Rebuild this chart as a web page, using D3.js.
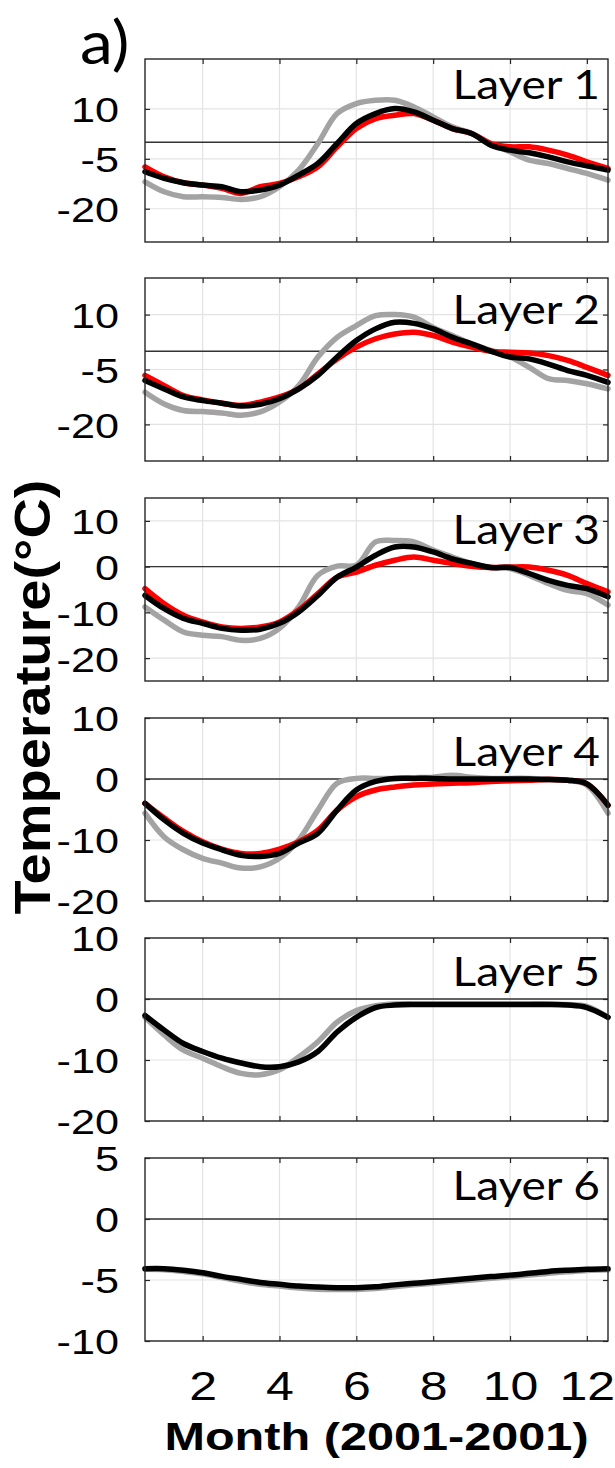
<!DOCTYPE html>
<html><head><meta charset="utf-8">
<script src="https://cdn.jsdelivr.net/npm/d3@7"></script>
<style>body{margin:0;background:#fff}svg{display:block}</style>
</head><body>
<svg id="chart" width="615" height="1468"></svg>
<script>
// ---------- data ----------
const months = [0.5,1,1.5,2,2.5,3,3.5,4,4.5,5,5.5,6,6.5,7,7.5,8,8.5,9,9.5,10,10.5,11,11.5,12,12.55];
const xTicks = [2,4,6,8,10,12];
const layerNames = ["Layer 1","Layer 2","Layer 3","Layer 4","Layer 5","Layer 6"];
const yDomains = [[-30,25],[-30,20],[-25,15],[-20,10],[-20,10],[-10,5]];
const yTicks = [[-20,-5,10],[-20,-5,10],[-20,-10,0,10],[-20,-10,0,10],[-20,-10,0,10],[-10,-5,0,5]];

const l1Gray  = [-11.9,-14.9,-16.4,-16.4,-16.6,-17.2,-16.4,-13.4,-8.4,-0.4,8.6,11.6,12.6,12.6,10.6,7.6,4.6,2.6,-0.4,-2.9,-5.4,-6.4,-7.9,-9.4,-11.4];
const l1Red   = [-7.4,-10.4,-12.2,-12.9,-13.9,-15.4,-13.4,-12.4,-10.4,-7.4,-1.4,4.1,7.1,8.1,8.6,6.6,4.1,2.6,-0.4,-1.4,-1.4,-2.4,-3.9,-5.9,-7.9];
const l1Black = [-8.9,-10.9,-12.2,-12.9,-13.4,-14.9,-14.4,-12.9,-9.9,-6.4,-0.4,5.6,8.6,10.1,9.1,6.6,4.1,2.6,-0.9,-2.4,-3.2,-4.4,-5.9,-7.1,-8.4];

const l2Gray  = [-11.2,-14.4,-16.2,-16.5,-16.9,-17.5,-16.6,-13.9,-9.4,-1.6,3.8,7.0,9.7,10.0,9.3,6.5,4.3,2.0,0.2,-1.6,-4.4,-7.5,-8.0,-8.9,-10.3];
const l2Red   = [-6.6,-9.4,-12.1,-13.3,-14.2,-14.8,-13.9,-12.5,-10.3,-6.2,-2.1,1.1,3.4,4.7,5.2,4.3,2.5,1.1,0.0,-0.3,-0.5,-1.2,-2.5,-4.4,-6.6];
const l2Black = [-8.0,-10.3,-12.5,-13.5,-14.2,-15.0,-14.5,-13.0,-10.3,-6.6,-1.6,2.9,6.1,7.9,7.6,6.1,3.8,2.0,0.0,-1.6,-2.1,-3.5,-5.3,-6.6,-8.5];

const l3Gray  = [-8.8,-11.7,-14.3,-15.0,-15.3,-16.1,-15.7,-13.5,-8.8,-1.9,0.1,0.3,5.4,5.7,5.4,3.6,2.1,0.7,-0.2,-0.4,-1.9,-3.7,-5.2,-5.9,-8.4];
const l3Red   = [-4.8,-8.1,-10.6,-12.1,-13.2,-13.5,-13.2,-12.1,-9.5,-5.9,-2.3,-1.2,0.3,1.4,2.1,1.4,0.7,0.1,-0.2,-0.1,-0.1,-0.8,-1.9,-3.7,-5.5];
const l3Black = [-6.3,-9.2,-11.3,-12.4,-13.5,-13.9,-13.7,-12.4,-9.9,-6.3,-2.3,-0.1,2.5,4.3,4.3,3.2,1.7,0.7,-0.2,-0.2,-1.5,-3.0,-4.1,-4.8,-6.6];

const l4Gray  = [-5.6,-9.5,-11.6,-13.0,-13.8,-14.6,-14.4,-13.0,-10.0,-5.1,-0.7,0.1,0.1,0.1,0.2,0.3,0.6,0.3,0.1,0.1,0.1,0.0,-0.2,-1.0,-5.6];
const l4Red   = [-4.0,-6.4,-8.6,-10.3,-11.5,-12.2,-12.2,-11.5,-10.3,-8.4,-5.1,-2.9,-1.8,-1.3,-1.0,-0.8,-0.7,-0.6,-0.4,-0.3,-0.2,-0.1,-0.2,-0.8,-4.3];
const l4Black = [-4.0,-6.7,-8.9,-10.5,-11.6,-12.5,-12.7,-12.2,-10.5,-8.9,-5.1,-1.8,-0.4,0.1,0.1,0.1,0.0,0.0,0.0,0.0,0.0,-0.1,-0.2,-0.8,-4.3];

const l5Gray  = [-3.0,-5.9,-8.4,-9.7,-11.1,-12.2,-12.4,-11.6,-9.5,-7.0,-3.8,-1.9,-1.1,-0.8,-0.8,-0.8,-0.8,-0.8,-0.8,-0.8,-0.8,-0.8,-0.9,-1.2,-3.0];
const l5Black = [-2.7,-5.1,-7.3,-8.6,-9.7,-10.5,-11.1,-11.1,-10.3,-8.6,-5.4,-3.0,-1.4,-1.0,-0.9,-0.9,-0.9,-0.9,-0.9,-0.9,-0.9,-0.9,-1.0,-1.4,-3.0];

const l6Gray  = [-4.12,-4.15,-4.3,-4.5,-4.8,-5.1,-5.35,-5.5,-5.65,-5.75,-5.78,-5.78,-5.7,-5.55,-5.4,-5.27,-5.13,-5.0,-4.86,-4.73,-4.6,-4.45,-4.33,-4.22,-4.17];
const l6Black = [-4.07,-4.07,-4.2,-4.4,-4.7,-4.95,-5.2,-5.35,-5.5,-5.58,-5.63,-5.63,-5.55,-5.4,-5.27,-5.14,-5.0,-4.86,-4.72,-4.6,-4.45,-4.3,-4.2,-4.12,-4.07];

const seriesNames = ["gray","red","black"];
const layerSeries = [
  [l1Gray,l1Red,l1Black],
  [l2Gray,l2Red,l2Black],
  [l3Gray,l3Red,l3Black],
  [l4Gray,l4Red,l4Black],
  [l5Gray,null,l5Black],
  [l6Gray,null,l6Black]
];

// ---------- layout / style ----------
const W = 615, H = 1468;
const plotL = 145, plotR = 608;
const panelTops = [59,278,498,718,938,1158];
const panelH = 183;
const labelDy = [40,46,46,48,48,42];
const colors = {gray:"#a3a3a3", red:"#ff0000", black:"#000000"};
const tickFont = "'Liberation Sans', Arial, sans-serif";
const labelFont = "Lato, 'Open Sans', sans-serif";

const svg = d3.select("#chart");
svg.append("rect").attr("width",W).attr("height",H).attr("fill","#fff");

const x = d3.scaleLinear().domain([0.5,12.55]).range([plotL,plotR]);

function placeText(parent, tx, ty, str, opts){
  const sx = opts.sx || 1;
  const g = parent.append("g").attr("transform",`translate(${tx},${ty}) scale(${sx},1)` + (opts.rotate?` rotate(${opts.rotate})`:""));
  const t = g.append("text").attr("x",0).attr("y",0).text(str)
    .attr("font-family",opts.family).attr("font-size",opts.size)
    .attr("font-weight",opts.weight||"normal")
    .attr("text-anchor",opts.anchor||"start").attr("fill","#000");
  if(opts.len) t.attr("textLength",opts.len).attr("lengthAdjust","spacingAndGlyphs");
  return t;
}

layerNames.forEach((name,i)=>{
  const top = panelTops[i];
  const y = d3.scaleLinear().domain(yDomains[i]).range([top+panelH, top]);
  const g = svg.append("g").attr("class","panel");

  // grid
  g.append("g").selectAll("line").data(xTicks).join("line")
    .attr("x1",d=>x(d)).attr("x2",d=>x(d)).attr("y1",top).attr("y2",top+panelH)
    .attr("stroke","#e3e3e3").attr("stroke-width",1.2);
  g.append("g").selectAll("line").data(yTicks[i]).join("line")
    .attr("x1",plotL).attr("x2",plotR).attr("y1",d=>y(d)).attr("y2",d=>y(d))
    .attr("stroke","#e3e3e3").attr("stroke-width",1.2);

  // zero line
  g.append("line").attr("x1",plotL).attr("x2",plotR).attr("y1",y(0)).attr("y2",y(0))
    .attr("stroke","#333").attr("stroke-width",1.4);

  // series
  const line = d3.line().x((d,k)=>x(months[k])).y(d=>y(d)).curve(d3.curveCatmullRom.alpha(0.5));
  layerSeries[i].forEach((vals,s)=>{
    if(!vals) return;
    g.append("path").datum(vals).attr("d",line).attr("fill","none")
      .attr("stroke",colors[seriesNames[s]]).attr("stroke-width",5.5)
      .attr("stroke-linejoin","round").attr("stroke-linecap","round");
  });

  // axes (inward ticks, box)
  const fmt = d => String(d);
  const ax = g.append("g").attr("transform",`translate(0,${top+panelH})`)
    .call(d3.axisBottom(x).tickValues(xTicks).tickSize(-5).tickFormat(i===5? fmt : ""));
  const axT = g.append("g").attr("transform",`translate(0,${top})`)
    .call(d3.axisTop(x).tickValues(xTicks).tickSize(-5).tickFormat(""));
  const ay = g.append("g").attr("transform",`translate(${plotL},0)`)
    .call(d3.axisLeft(y).tickValues(yTicks[i]).tickSize(-5).tickFormat(fmt));
  const ayR = g.append("g").attr("transform",`translate(${plotR},0)`)
    .call(d3.axisRight(y).tickValues(yTicks[i]).tickSize(-5).tickFormat(""));
  [ax,axT,ay,ayR].forEach(a=>{
    a.select(".domain").remove();
    a.selectAll(".tick line").attr("stroke","#262626").attr("stroke-width",1.2);
  });
  const ysx = 1.2;
  ay.selectAll(".tick text")
    .attr("font-family",tickFont).attr("font-size",36).attr("fill","#000")
    .attr("x",-26/ysx).attr("dy","0.36em")
    .attr("transform",`scale(${ysx},1)`);
  if(i===5){
    ax.selectAll(".tick text")
      .attr("font-family",tickFont).attr("font-size",40).attr("fill","#000")
      .attr("y",0).attr("dy","0").attr("transform",`translate(0,${1400-(top+panelH)}) scale(1.25,1)`);
  }
  g.append("rect").attr("x",plotL).attr("y",top).attr("width",plotR-plotL).attr("height",panelH)
    .attr("fill","none").attr("stroke","#262626").attr("stroke-width",1.4);

  // layer label
  placeText(g, plotR-8, top+labelDy[i], name, {family:labelFont, size:40, anchor:"end", sx:1.15});
});

// panel letter
placeText(svg, 80, 64, "a)", {family:labelFont, size:60, sx:1.1});
// y title
placeText(svg, 50, 697, "Temperature(°C)", {family:tickFont, size:50, weight:"bold", anchor:"middle", rotate:-90, len:435});
// x title
placeText(svg, (plotL+plotR)/2, 1450, "Month (2001-2001)", {family:tickFont, size:38, weight:"bold", anchor:"middle", sx:1.28});
</script>
</body></html>
